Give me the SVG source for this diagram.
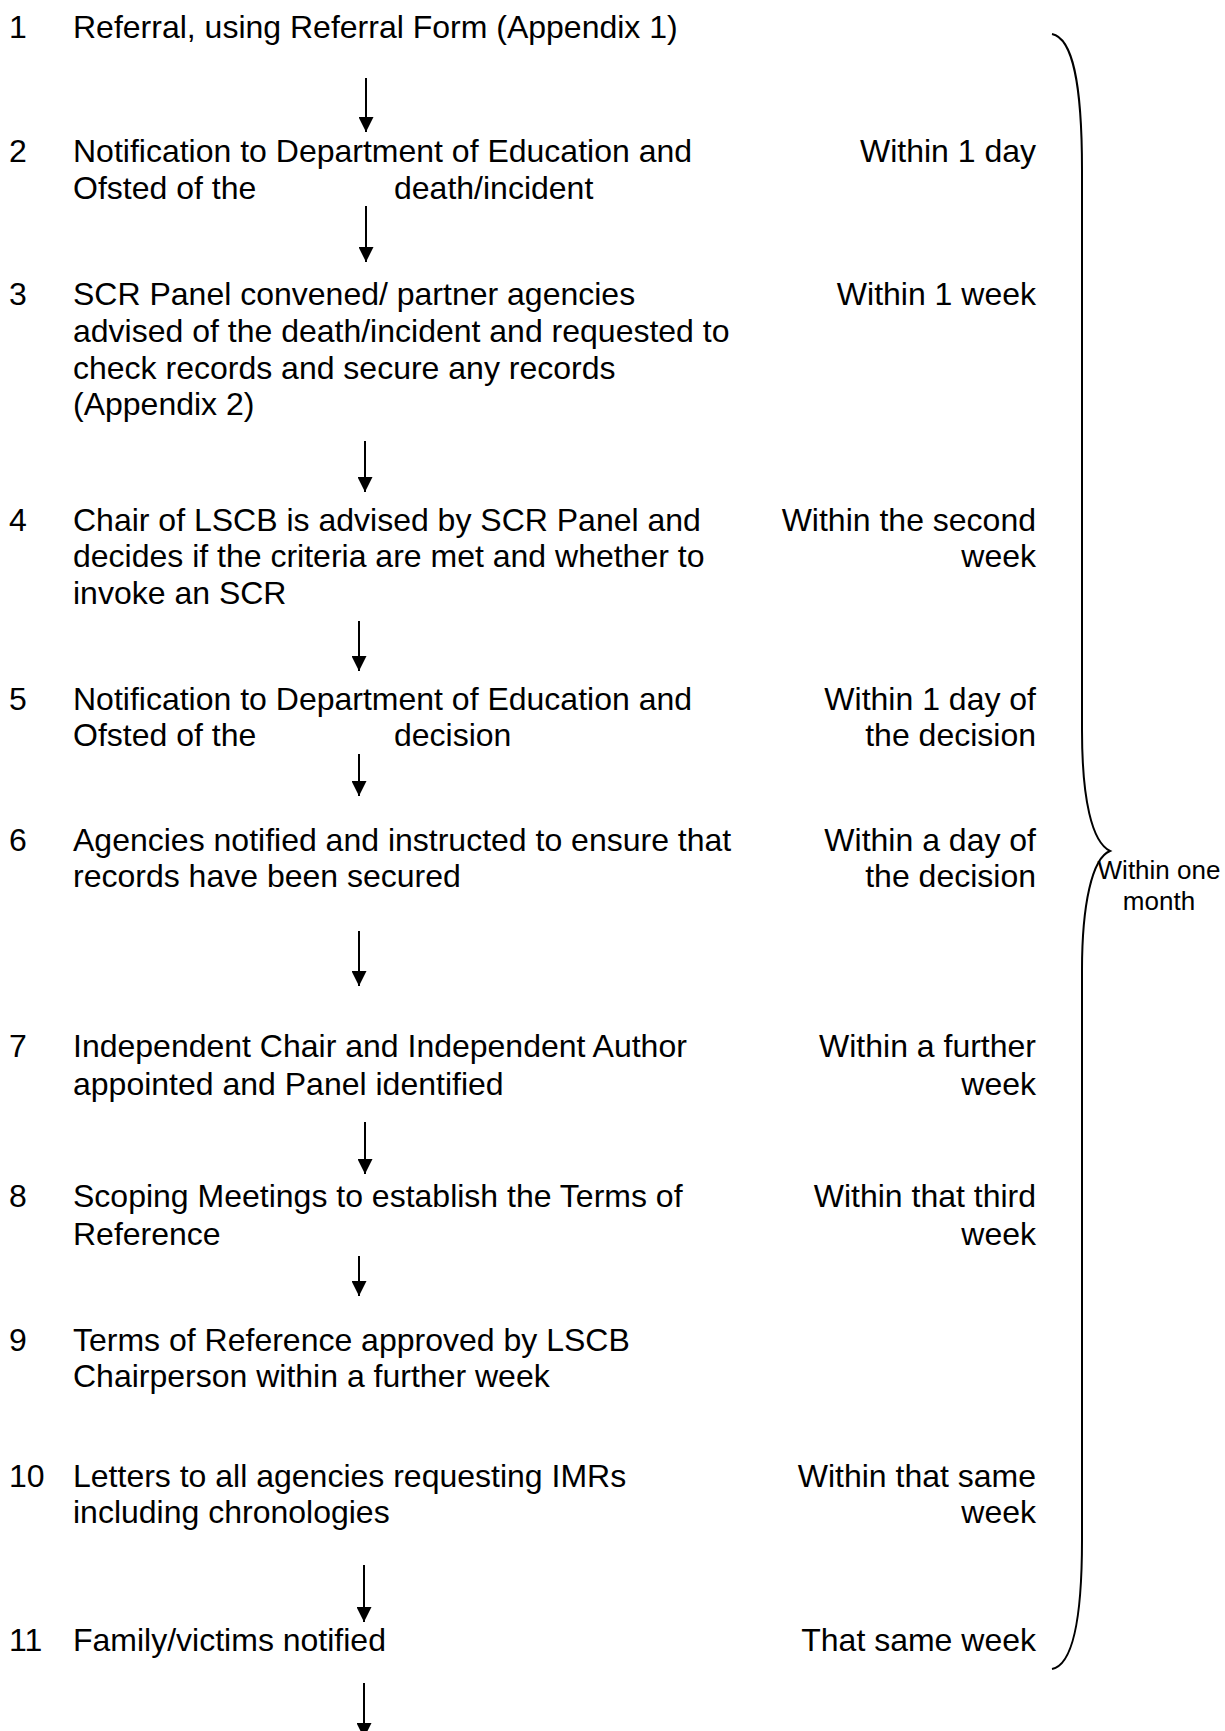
<svg xmlns="http://www.w3.org/2000/svg" width="1225" height="1731" viewBox="0 0 1225 1731">
<style>
text{font-family:"Liberation Sans",Arial,sans-serif;font-size:32px;fill:#000}
.r{text-anchor:end}
.note{font-size:26px;text-anchor:middle}
.c{stroke:#000;stroke-width:2;fill:none}
</style>
<defs>
<marker id="ah" viewBox="0 0 10 10" refX="10" refY="5" markerWidth="15" markerHeight="15" markerUnits="userSpaceOnUse" orient="auto">
<path d="M0,0 L10,5 L0,10 Z" fill="#000"/>
</marker>
</defs>
<rect width="1225" height="1731" fill="#fff"/>
<g id="step1"><text x="9" y="38">1</text><text x="73" y="38">Referral, using Referral Form (Appendix 1)</text></g>
<g id="step2"><text x="9" y="162">2</text><text x="73" y="162">Notification to Department of Education and</text><text x="73" y="199">Ofsted of the</text><text x="394" y="199">death/incident</text><text class="r" x="1036" y="162">Within 1 day</text></g>
<g id="step3"><text x="9" y="305">3</text><text x="73" y="305">SCR Panel convened/ partner agencies</text><text x="73" y="342">advised of the death/incident and requested to</text><text x="73" y="379">check records and secure any records</text><text x="73" y="415">(Appendix 2)</text><text class="r" x="1036" y="305">Within 1 week</text></g>
<g id="step4"><text x="9" y="531">4</text><text x="73" y="531">Chair of LSCB is advised by SCR Panel and</text><text x="73" y="567">decides if the criteria are met and whether to</text><text x="73" y="604">invoke an SCR</text><text class="r" x="1036" y="531">Within the second</text><text class="r" x="1036" y="567">week</text></g>
<g id="step5"><text x="9" y="710">5</text><text x="73" y="710">Notification to Department of Education and</text><text x="73" y="746">Ofsted of the</text><text x="394" y="746">decision</text><text class="r" x="1036" y="710">Within 1 day of</text><text class="r" x="1036" y="746">the decision</text></g>
<g id="step6"><text x="9" y="851">6</text><text x="73" y="851">Agencies notified and instructed to ensure that</text><text x="73" y="887">records have been secured</text><text class="r" x="1036" y="851">Within a day of</text><text class="r" x="1036" y="887">the decision</text></g>
<g id="step7"><text x="9" y="1057">7</text><text x="73" y="1057">Independent Chair and Independent Author</text><text x="73" y="1095">appointed and Panel identified</text><text class="r" x="1036" y="1057">Within a further</text><text class="r" x="1036" y="1095">week</text></g>
<g id="step8"><text x="9" y="1207">8</text><text x="73" y="1207">Scoping Meetings to establish the Terms of</text><text x="73" y="1245">Reference</text><text class="r" x="1036" y="1207">Within that third</text><text class="r" x="1036" y="1245">week</text></g>
<g id="step9"><text x="9" y="1351">9</text><text x="73" y="1351">Terms of Reference approved by LSCB</text><text x="73" y="1387">Chairperson within a further week</text></g>
<g id="step10"><text x="9" y="1487">10</text><text x="73" y="1487">Letters to all agencies requesting IMRs</text><text x="73" y="1523">including chronologies</text><text class="r" x="1036" y="1487">Within that same</text><text class="r" x="1036" y="1523">week</text></g>
<g id="step11"><text x="9" y="1651">11</text><text x="73" y="1651">Family/victims notified</text><text class="r" x="1036" y="1651">That same week</text></g>
<g id="connectors">
<line class="c" x1="366" y1="78" x2="366" y2="132" marker-end="url(#ah)"/>
<line class="c" x1="366" y1="206" x2="366" y2="262" marker-end="url(#ah)"/>
<line class="c" x1="365" y1="441" x2="365" y2="492" marker-end="url(#ah)"/>
<line class="c" x1="359" y1="621" x2="359" y2="671" marker-end="url(#ah)"/>
<line class="c" x1="359" y1="754" x2="359" y2="796" marker-end="url(#ah)"/>
<line class="c" x1="359" y1="931" x2="359" y2="986" marker-end="url(#ah)"/>
<line class="c" x1="365" y1="1122" x2="365" y2="1174" marker-end="url(#ah)"/>
<line class="c" x1="359" y1="1256" x2="359" y2="1296" marker-end="url(#ah)"/>
<line class="c" x1="364" y1="1565" x2="364" y2="1622" marker-end="url(#ah)"/>
<line class="c" x1="364" y1="1683" x2="364" y2="1738" marker-end="url(#ah)"/>
</g>
<g id="brace">
<path class="c" d="M1052,34 C1072,38 1082,80 1082,170 L1082,730 C1082,800 1092,842 1110,851 C1092,858 1082,905 1082,970 L1082,1540 C1082,1620 1072,1665 1052,1669"/>
<text class="note" x="1159" y="879">Within one</text>
<text class="note" x="1159" y="910">month</text>
</g>
</svg>
